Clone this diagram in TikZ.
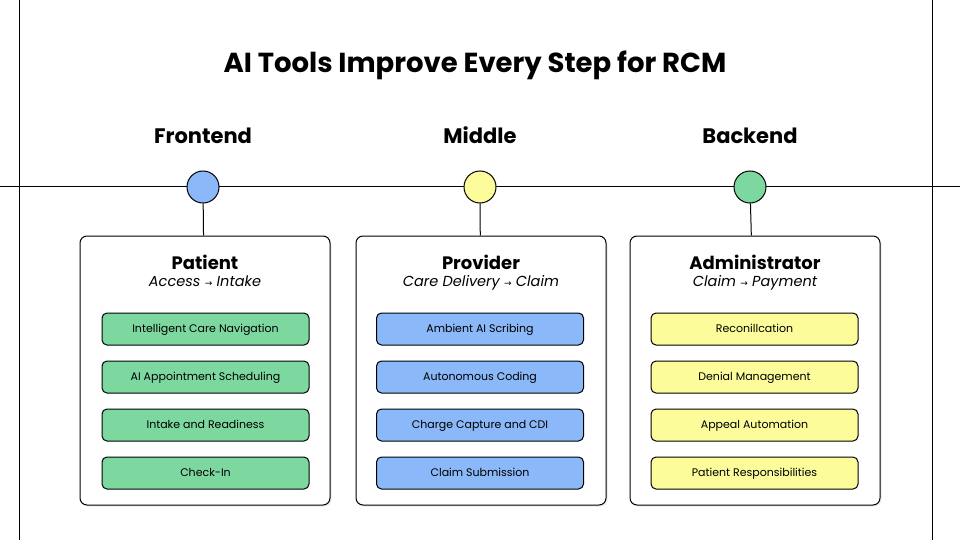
\documentclass[tikz,border=0pt]{standalone}
\usepackage{fontspec}
\setmainfont{Poppins}
\newfontfamily\arrowfont{DejaVu Sans}
\usetikzlibrary{positioning,calc,shadows}
\definecolor{bluefill}{HTML}{8AB8F8}
\definecolor{yelfill}{HTML}{FCFC9A}
\definecolor{grnfill}{HTML}{7DD8A0}
\newcommand{\fwd}{{\arrowfont\upshape\fontsize{9}{9}\selectfont →}}
\tikzset{
	rule/.style={line width=1pt},
	heading/.style={font=\fontsize{27.5}{32}\selectfont\bfseries,anchor=base},
	stage/.style={font=\fontsize{21}{25}\selectfont\bfseries,anchor=base},
	dot/.style={circle,draw,line width=1pt,minimum size=32pt,inner sep=0pt},
	card/.style={draw,fill=white,rounded corners=7pt,line width=1pt,minimum width=250pt,minimum height=269pt,drop shadow={shadow xshift=1.5pt,shadow yshift=-1.5pt,opacity=0.15}},
	cardhead/.style={font=\fontsize{18}{21}\selectfont\bfseries,inner sep=0pt,anchor=base},
	cardsub/.style={font=\fontsize{14.5}{17}\selectfont\itshape,inner sep=0pt,anchor=base},
	tool/.style={draw,rounded corners=5pt,line width=1pt,minimum width=207pt,minimum height=32pt,text height=7.7pt,text depth=0pt,font=\fontsize{11}{13}\selectfont},
	wire/.style={line width=1pt}
}
\begin{document}
\begin{tikzpicture}[x=1pt,y=-1pt]
	\fill[white] (0,0) rectangle (960,540);
	\useasboundingbox (0,0) rectangle (960,540);
	\draw[rule] (19,0) -- (19,540);
	\draw[rule] (932,0) -- (932,540);
	\draw[rule] (0,186) -- (960,186);
	\node[heading] (title) at (475,73) {AI Tools Improve Every Step for RCM};
	\foreach \n/\x/\t/\c in {fe/203/Frontend/bluefill,mid/480/Middle/yelfill,be/750/Backend/grnfill}{
		\node[stage] (\n-lbl) at (\x,144) {\t};
		\node[dot,fill=\c] (\n) at (\x,187) {};
	}
	\foreach \n/\x/\h/\s/\f/\d in {pat/205/Patient/Access/Intake/fe,prov/481/Provider/Care Delivery/Claim/mid,adm/755/Administrator/Claim/Payment/be}{
		\node[card] (\n) at (\x,370.5) {};
		\node[cardhead] (\n-h) at (\x,269) {\h};
		\node[cardsub] (\n-s) at (\x,286) {\s\ \fwd\ \f};
		\draw[wire] (\d) -- (\n);
	}
	\foreach \i/\t in {1/Intelligent Care Navigation,2/AI Appointment Scheduling,3/Intake and Readiness,4/Check-In}
		\node[tool,fill=grnfill] (pat\i) at (205.5,281+\i*48) {\t};
	\foreach \i/\t in {1/Ambient AI Scribing,2/Autonomous Coding,3/Charge Capture and CDI,4/Claim Submission}
		\node[tool,fill=bluefill] (prov\i) at (480,281+\i*48) {\t};
	\foreach \i/\t in {1/Reconillcation,2/Denial Management,3/Appeal Automation,4/Patient Responsibilities}
		\node[tool,fill=yelfill] (adm\i) at (754.5,281+\i*48) {\t};
\end{tikzpicture}
\end{document}
